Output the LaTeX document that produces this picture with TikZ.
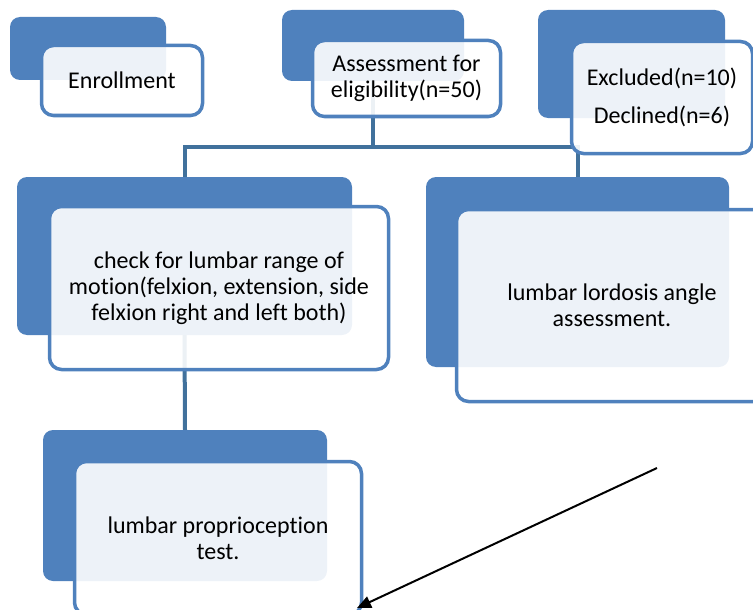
\documentclass[tikz,border=0pt]{standalone}
\usepackage{fontspec}
\setmainfont{Carlito}[Ligatures={NoCommon}]
\usetikzlibrary{arrows.meta}

\definecolor{boxblue}{HTML}{4F81BD}
\definecolor{lineblue}{HTML}{41719C}

\tikzset{
    backbox/.style={fill=boxblue, rounded corners=10pt, inner sep=0pt},
    frontbox/.style={draw=boxblue, line width=3.5pt, fill=white, fill opacity=0.9, text opacity=1,
        rounded corners=12pt, inner sep=0pt, align=center, font=\fontsize{24}{26}\selectfont},
    link/.style={draw=lineblue, line width=4pt}
}

\begin{document}
\begin{tikzpicture}[x=1pt, y=-1pt]
    \useasboundingbox (0, 0) rectangle (753, 610);

    % back boxes
    \node[backbox, minimum width=156pt, minimum height=63pt] (enrollback) at (88, 48.5) {};
    \node[backbox, minimum width=182pt, minimum height=71pt] (assessback) at (373, 45.5) {};
    \node[backbox, minimum width=187pt, minimum height=108pt] (exclback) at (631.5, 64) {};
    \node[backbox, minimum width=335pt, minimum height=158pt] (checkback) at (184.5, 256) {};
    \node[backbox, minimum width=303pt, minimum height=190pt] (lordback) at (577.5, 272) {};
    \node[backbox, minimum width=284pt, minimum height=151pt] (propback) at (185, 505.5) {};

    % connectors
    \coordinate (bar) at (373, 147);
    \draw[link] (assessback.south) -- (bar) -| (checkback.north);
    \draw[link] (bar) -| (lordback.north);
    \draw[link] (checkback.south) -- (propback.north);

    % front boxes
    \node[frontbox, minimum width=161pt, minimum height=70pt] (enroll) at (122, 80.5) {Enrollment};
    \node[frontbox, minimum width=188pt, minimum height=76pt] (assess) at (406.5, 78.5) {Assessment for\\eligibility(n=50)};
    \node[frontbox, minimum width=181pt, minimum height=112pt] (excl) at (662, 97.5) {Excluded(n=10)\\[12pt]Declined(n=6)};
    \node[frontbox, minimum width=339pt, minimum height=163pt] (check) at (219, 288) {check for lumbar range of\\motion(felxion, extension, side\\felxion right and left both)};
    \node[frontbox, minimum width=311pt, minimum height=192pt] (lord) at (612, 305.5) {lumbar lordosis angle\\assessment.};
    \node[frontbox, minimum width=287pt, minimum height=153pt] (prop) at (218, 538) {lumbar proprioception\\test.};

    % stray arrow
    \coordinate (arrfrom) at (657, 468);
    \coordinate (arrto) at (357, 608);
    \draw[-{Triangle[length=14pt, width=12pt]}, line width=2pt] (arrfrom) -- (arrto);
\end{tikzpicture}
\end{document}
